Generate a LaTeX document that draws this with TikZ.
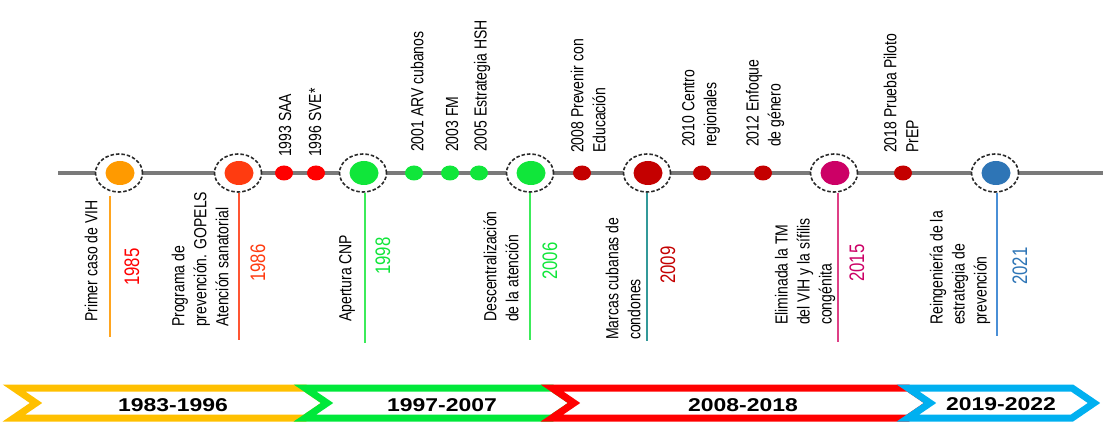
\documentclass[tikz,border=0pt]{standalone}
\usepackage{fontspec}
\setmainfont{Liberation Sans}
\newfontfamily\lblfont[FakeStretch=0.8]{Liberation Sans}
\newfontfamily\banfont[FakeStretch=1.24]{Liberation Sans}
\usetikzlibrary{shapes.geometric}

\definecolor{axisgray}{HTML}{7A7A7A}
\definecolor{ringgray}{HTML}{2A2A2A}
\definecolor{cOrange}{HTML}{FF9A00}
\definecolor{cOrangeRed}{HTML}{FF3B10}
\definecolor{cRed}{HTML}{FF0000}
\definecolor{cGreen}{HTML}{10E63A}
\definecolor{cDarkRed}{HTML}{C40000}
\definecolor{cMagenta}{HTML}{CC0066}
\definecolor{cBlue}{HTML}{2E75B6}
\definecolor{stemOrange}{HTML}{FFA51F}
\definecolor{stemOrangeRed}{HTML}{FF5533}
\definecolor{stemGreen}{HTML}{3CEB5A}
\definecolor{stemTeal}{HTML}{339999}
\definecolor{stemMagenta}{HTML}{DE3F86}
\definecolor{stemBlue}{HTML}{4A8FD6}
\definecolor{bandGold}{HTML}{FFC000}
\definecolor{bandGreen}{HTML}{00E83A}
\definecolor{bandRed}{HTML}{FF0000}
\definecolor{bandBlue}{HTML}{00B0F0}

\tikzset{
  ring/.style={ellipse, draw=ringgray, line width=1.6pt, dash pattern=on 3.5pt off 2pt,
    fill=white, minimum width=47pt, minimum height=38pt, inner sep=0pt},
  bigdot/.style={ellipse, fill=#1, minimum width=29pt, minimum height=24pt, inner sep=0pt},
  smalldot/.style={ellipse, fill=#1, minimum width=18pt, minimum height=15pt, inner sep=0pt},
  lbl/.style={rotate=90, anchor=west, align=left, inner sep=0pt,
    font=\lblfont\fontsize{17.5}{22}\selectfont},
  yr/.style={rotate=90, inner sep=0pt, text=#1,
    font=\lblfont\fontsize{21}{24}\selectfont},
  stem/.style={line width=2.8pt, draw=#1},
  band/.style={line width=7pt, line join=miter, draw=#1, fill=white},
  bandtxt/.style={inner sep=0pt, font=\banfont\bfseries\fontsize{18.5}{20}\selectfont}
}

\begin{document}
\begin{tikzpicture}[x=1pt, y=-1pt]
\useasboundingbox (0,0) rectangle (1103,422);

% time axis
\coordinate (axL) at (58,173);
\coordinate (axR) at (1103,173);
\draw[axisgray, line width=3.2pt] (axL) -- (axR);

% milestone rings and their fills
\node[ring] (r85) at (119,173) {};
\node[bigdot=cOrange] (f85) at (120,173) {};
\node[ring] (r86) at (238,173) {};
\node[bigdot=cOrangeRed] (f86) at (239,173) {};
\node[ring] (r98) at (363,173) {};
\node[bigdot=cGreen] (f98) at (364,173) {};
\node[ring] (r06) at (530,173) {};
\node[bigdot=cGreen] (f06) at (531,173) {};
\node[ring] (r09) at (647,173) {};
\node[bigdot=cDarkRed] (f09) at (648,173) {};
\node[ring] (r15) at (834,173) {};
\node[bigdot=cMagenta] (f15) at (835,173) {};
\node[ring] (r21) at (995,173) {};
\node[bigdot=cBlue] (f21) at (996,173) {};

% minor events on the axis
\node[smalldot=cRed] (d93) at (284,173) {};
\node[smalldot=cRed] (d96) at (316,173) {};
\node[smalldot=cGreen] (d01) at (414,173) {};
\node[smalldot=cGreen] (d03) at (450,173) {};
\node[smalldot=cGreen] (d05) at (479,173) {};
\node[smalldot=cDarkRed] (d08) at (582,173) {};
\node[smalldot=cDarkRed] (d10) at (702,173) {};
\node[smalldot=cDarkRed] (d12) at (763,173) {};
\node[smalldot=cDarkRed] (d18) at (903,173) {};

% stems hanging from the milestones
\coordinate (e85) at (110,337);
\coordinate (e86) at (239,340);
\coordinate (e98) at (365,343);
\coordinate (e06) at (530,340);
\coordinate (e09) at (647,341);
\coordinate (e15) at (838,342);
\coordinate (e21) at (997,336);
\draw[stem=stemOrange] (e85 |- r85.south) ++(0,3) -- (e85);
\draw[stem=stemOrangeRed] (e86 |- r86.south) -- (e86);
\draw[stem=stemGreen] (e98 |- r98.south) -- (e98);
\draw[stem=stemGreen] (e06 |- r06.south) -- (e06);
\draw[stem=stemTeal] (e09 |- r09.south) -- (e09);
\draw[stem=stemMagenta] (e15 |- r15.south) -- (e15);
\draw[stem=stemBlue] (e21 |- r21.south) -- (e21);

% milestone descriptions
\node[lbl] (t85) at (91,322) {Primer caso de VIH};
\node[lbl] (t86) at (200,327) {Programa de\\prevención. GOPELS\\Atención sanatorial};
\node[lbl] (t98) at (347,322) {Apertura CNP};
\node[lbl] (t06) at (501,322) {Descentralización\\de la atención};
\node[lbl] (t09) at (623,340) {Marcas cubanas de\\condones};
\node[lbl] (t15) at (805,325) {Eliminada la TM\\del VIH y la sífilis\\congénita};
\node[lbl] (t21) at (960,325) {Reingeniería de la\\estrategia de\\prevención};

% minor event descriptions
\node[lbl] (l93) at (285,157) {1993 SAA};
\node[lbl] (l96) at (315,157) {1996 SVE*};
\node[lbl] (l01) at (417,152) {2001 ARV cubanos};
\node[lbl] (l03) at (452,152) {2003 FM};
\node[lbl] (l05) at (482,152) {2005 Estrategia HSH};
\node[lbl] (l08) at (588,153) {2008 Prevenir con\\Educación};
\node[lbl] (l10) at (701,147) {2010 Centro\\regionales};
\node[lbl] (l12) at (765,147) {2012 Enfoque\\de género};
\node[lbl] (l18) at (901,153) {2018 Prueba Piloto\\PrEP};

% years
\node[yr=cRed] (y85) at (132,267) {1985};
\node[yr=cOrangeRed] (y86) at (258,263) {1986};
\node[yr=cGreen] (y98) at (383,256) {1998};
\node[yr=cGreen] (y06) at (550,261) {2006};
\node[yr=cDarkRed] (y09) at (668,265) {2009};
\node[yr=cMagenta] (y15) at (857,263) {2015};
\node[yr=cBlue] (y21) at (1020,266) {2021};

% period chevrons
\draw[band=bandGold]  (14,388) -- (305,388) -- (327,403) -- (305,418) -- (14,418) -- (36,403) -- cycle;
\draw[band=bandGreen] (305,388) -- (552,388) -- (574,403) -- (552,418) -- (305,418) -- (327,403) -- cycle;
\draw[band=bandRed]   (552,388) -- (908,388) -- (930,403) -- (908,418) -- (552,418) -- (574,403) -- cycle;
\draw[band=bandBlue]  (908,388) -- (1072,388) -- (1094,403) -- (1072,418) -- (908,418) -- (930,403) -- cycle;
\node[bandtxt] (p1) at (173,405) {1983-1996};
\node[bandtxt] (p2) at (442,405) {1997-2007};
\node[bandtxt] (p3) at (743,405) {2008-2018};
\node[bandtxt] (p4) at (1001,404) {2019-2022};
\end{tikzpicture}
\end{document}
